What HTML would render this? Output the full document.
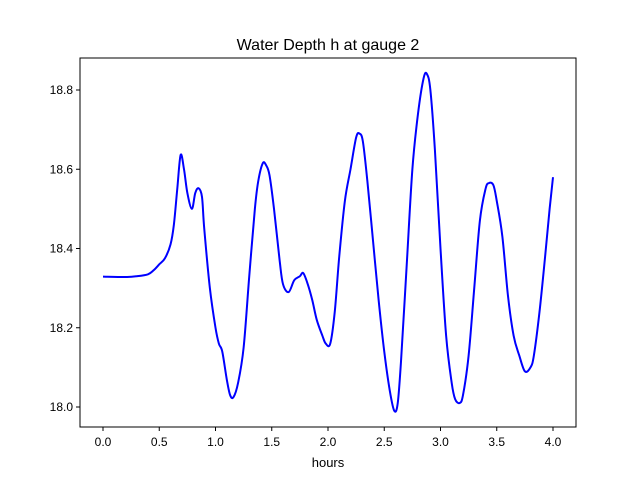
<!DOCTYPE html>
<html><head><meta charset="utf-8"><style>
body{margin:0;background:#fff;font-family:"Liberation Sans","DejaVu Sans",sans-serif}
</style></head><body>
<svg width="640" height="480" xmlns="http://www.w3.org/2000/svg">
<rect width="640" height="480" fill="#fff"/>
<text x="328" y="50" text-anchor="middle" font-size="16" fill="#000">Water Depth h at gauge 2</text>
<g id="plot"></g>
<rect x="80" y="58" width="496" height="369" fill="none" stroke="#000" stroke-width="1"/>
<text x="328" y="467" text-anchor="middle" font-size="13" fill="#000">hours</text>
</svg>
<script>
const hours=[0,0.2,0.3,0.4,0.45,0.5,0.55,0.6,0.63,0.66,0.69,0.72,0.75,0.79,0.82,0.85,0.88,0.9,0.95,1.0,1.03,1.06,1.1,1.13,1.16,1.2,1.25,1.3,1.35,1.38,1.42,1.45,1.48,1.52,1.57,1.6,1.65,1.7,1.75,1.78,1.82,1.86,1.9,1.95,1.98,2.02,2.06,2.1,2.15,2.2,2.25,2.28,2.31,2.35,2.4,2.45,2.5,2.55,2.59,2.62,2.65,2.7,2.75,2.8,2.85,2.88,2.91,2.95,3.0,3.05,3.1,3.13,3.17,3.2,3.25,3.3,3.35,3.4,3.43,3.47,3.5,3.55,3.6,3.65,3.7,3.75,3.8,3.83,3.88,3.93,3.97,4.0];
const depth=[18.329,18.328,18.33,18.335,18.345,18.36,18.375,18.41,18.46,18.55,18.636,18.6,18.54,18.50,18.54,18.552,18.53,18.45,18.3,18.2,18.16,18.14,18.07,18.03,18.025,18.06,18.15,18.33,18.5,18.57,18.615,18.61,18.585,18.5,18.37,18.31,18.29,18.32,18.33,18.338,18.31,18.27,18.22,18.18,18.16,18.16,18.24,18.38,18.52,18.6,18.68,18.69,18.67,18.57,18.42,18.27,18.14,18.04,17.99,18.01,18.12,18.36,18.6,18.74,18.83,18.84,18.8,18.65,18.4,18.18,18.06,18.02,18.01,18.03,18.13,18.3,18.47,18.55,18.565,18.56,18.52,18.43,18.28,18.18,18.13,18.09,18.1,18.13,18.24,18.38,18.5,18.58];
const xTicks=[0,0.5,1,1.5,2,2.5,3,3.5,4];
const xTickLabels=["0.0","0.5","1.0","1.5","2.0","2.5","3.0","3.5","4.0"];
const yTicks=[18.0,18.2,18.4,18.6,18.8];
const yTickLabels=["18.0","18.2","18.4","18.6","18.8"];
const X=v=>103+v*112.5, Y=v=>407-(v-18)*396.25;
const NS="http://www.w3.org/2000/svg", g=document.getElementById('plot');
function mk(t,a){const e=document.createElementNS(NS,t);for(const k in a)e.setAttribute(k,a[k]);g.appendChild(e);return e;}
xTicks.forEach((v,i)=>{
 const l=mk('line',{x1:X(v),x2:X(v),y1:427,y2:431,stroke:'#000'});
 
 
 const t=mk('text',{x:X(v),y:446,'text-anchor':'middle','font-size':12});
 
 
 t.textContent=xTickLabels[i];
});
yTicks.forEach((v,i)=>{
 const l=mk('line',{x1:76,x2:80,y1:Y(v),y2:Y(v),stroke:'#000'});
 
 
 const t=mk('text',{x:73,y:Y(v)+4,'text-anchor':'end','font-size':12});
 
 
 t.textContent=yTickLabels[i];
});
const pts=hours.map((h,i)=>[X(h),Y(depth[i])]);
let d='M'+pts[0][0]+','+pts[0][1];
for(let i=0;i<pts.length-1;i++){
 const p0=pts[Math.max(0,i-1)],p1=pts[i],p2=pts[i+1],p3=pts[Math.min(pts.length-1,i+2)];
 const c1x=p1[0]+(p2[0]-p0[0])/6,c1y=p1[1]+(p2[1]-p0[1])/6;
 const c2x=p2[0]-(p3[0]-p1[0])/6,c2y=p2[1]-(p3[1]-p1[1])/6;
 d+=' C'+c1x+','+c1y+' '+c2x+','+c2y+' '+p2[0]+','+p2[1];
}
const p=mk('path',{d:d,fill:'none',stroke:'#0000ff','stroke-width':2,'stroke-linejoin':'round'});


</script>
</body></html>
